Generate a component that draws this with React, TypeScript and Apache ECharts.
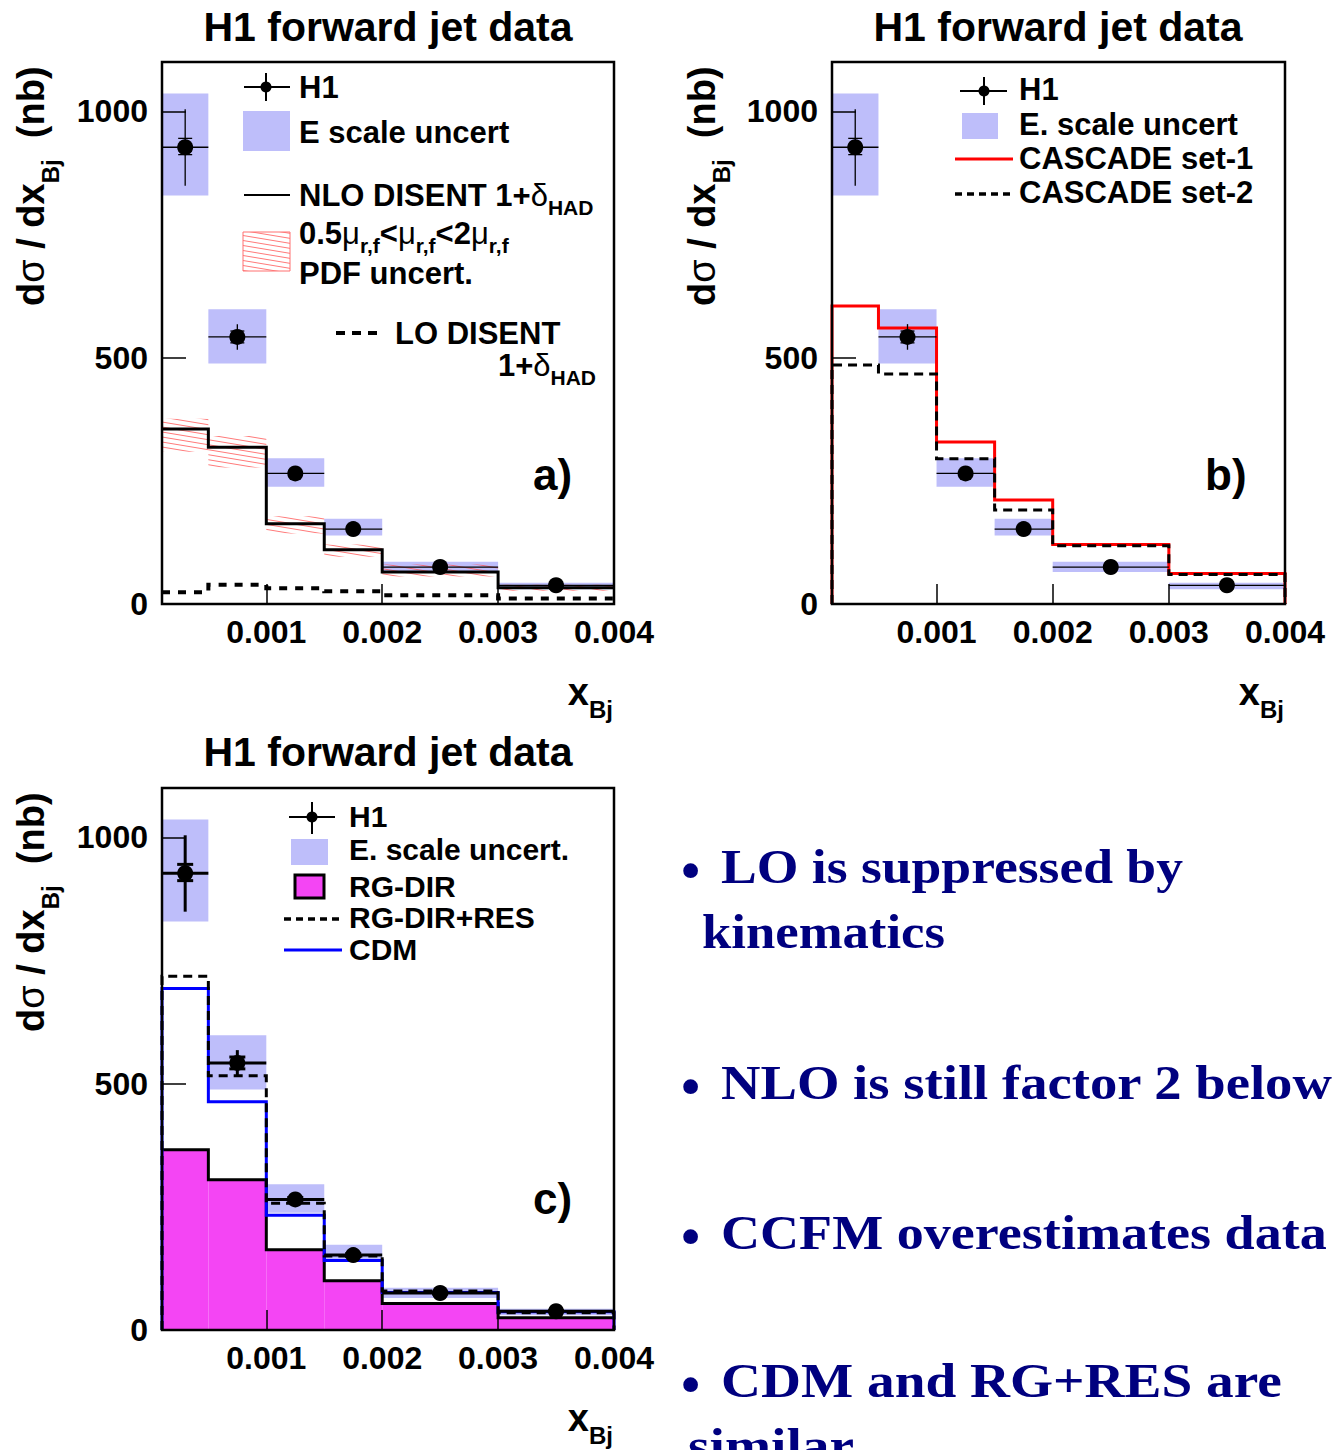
import React, { useEffect, useRef } from 'react';
import * as echarts from 'echarts';

// ---------------- data ----------------
const binEdges = [0.0001, 0.0005, 0.001, 0.0015, 0.002, 0.003, 0.004];
const h1Values = [927, 542, 265, 152, 75, 38];
const h1TotLow = [849, 516, 257, 146, 71, 35];
const h1TotHigh = [1004, 568, 273, 158, 79, 41];
const h1StatLow = [912, 530, 261, 149, 73, 37];
const h1StatHigh = [945, 554, 269, 155, 77, 39];
const eScaleLow = [829, 488, 238, 139, 65, 30];
const eScaleHigh = [1036, 598, 296, 173, 86, 43];
const nloValues = [355, 318, 163, 110, 65, 33];
const nloBandLow = [309, 277, 143, 96, 56, 27];
const nloBandHigh = [376, 341, 178, 121, 80, 39];
const loValues = [24, 39, 32, 26, 18, 11];
const cascadeSet1 = [605, 560, 329, 211, 121, 62];
const cascadeSet2 = [485, 467, 295, 191, 118, 60];
const rgDir = [366, 305, 163, 100, 54, 25];
const rgDirRes = [718, 516, 257, 150, 79, 35];
const cdm = [693, 463, 233, 141, 76, 37];
const xTickValues = [0.001, 0.002, 0.003];
const xLabelValues = [0.001, 0.002, 0.003, 0.004];
const yLabelValues = [0, 500, 1000];
const panelTitle = 'H1 forward jet data';
const noteLines = [
  'LO is suppressed by',
  'kinematics',
  'NLO is still factor 2 below',
  'CCFM overestimates data',
  'CDM and RG+RES are',
  'similar',
];

// ---------------- layout / style ----------------
const SANS = 'Liberation Sans';
const SERIF = 'Liberation Serif';
const BLUE_BOX = '#bebefa';
const MAGENTA = '#f445f4';
const NAVY = '#00007f';
const PANELS = [
  { left: 162, top: 62, width: 452, height: 542 },
  { left: 832, top: 62, width: 453, height: 542 },
  { left: 162, top: 788, width: 452, height: 542 },
];
// note layout: x, baseline, right edge target, bullet?
const NOTE_LAYOUT = [
  { x: 721, base: 883, right: 1183, bullet: true },
  { x: 702, base: 948, right: 945, bullet: false },
  { x: 721, base: 1099, right: 1333, bullet: true },
  { x: 721, base: 1249, right: 1327, bullet: true },
  { x: 721, base: 1397, right: 1282, bullet: true },
  { x: 688, base: 1462, right: 0, bullet: false },
];

let mctx: CanvasRenderingContext2D | null = null;
function measure(t: string, size: number, weight: string, family: string): number {
  if (!mctx) mctx = document.createElement('canvas').getContext('2d');
  mctx!.font = `${weight} ${size}px "${family}"`;
  return mctx!.measureText(t).width;
}

function text(x: number, y: number, t: string, size: number, weight = 'bold', extra: any = {}, family = SANS, color = '#000', align = 'left') {
  return {
    type: 'text',
    x,
    y,
    z: 100,
    ...extra,
    style: { text: t, fontSize: size, fontFamily: family, fontWeight: weight, fill: color, align, verticalAlign: 'middle' },
  };
}

type Part = { t: string; size?: number; weight?: string; dy?: number };
function row(x: number, y: number, parts: Part[], base: number, align: 'left' | 'right' | 'center' = 'left'): any[] {
  const ws = parts.map((p) => measure(p.t, p.size ?? base, p.weight ?? 'bold', SANS));
  const total = ws.reduce((a, b) => a + b, 0);
  let cx = align === 'left' ? x : align === 'right' ? x - total : x - total / 2;
  return parts.map((p, i) => {
    const el = text(cx, y + (p.dy ?? 0), p.t, p.size ?? base, p.weight ?? 'bold');
    cx += ws[i];
    return el;
  });
}

function gline(x1: number, y1: number, x2: number, y2: number, stroke: string, lineWidth: number, lineDash?: number[]) {
  return { type: 'line', z: 100, shape: { x1, y1, x2, y2 }, style: { stroke, lineWidth, lineDash } };
}

function makeHatch() {
  const c = document.createElement('canvas');
  c.width = 30;
  c.height = 5;
  const g = c.getContext('2d')!;
  g.strokeStyle = 'rgba(255,80,80,0.85)';
  g.lineWidth = 0.9;
  for (const off of [-5, 0, 5]) {
    g.beginPath();
    g.moveTo(0, off);
    g.lineTo(30, off + 5);
    g.stroke();
  }
  return { type: 'pattern', image: c.toDataURL(), repeat: 'repeat', imageWidth: 30, imageHeight: 5 };
}

function stepData(vals: number[], closed: boolean) {
  const n = vals.length;
  const pts: number[][] = vals.map((v, i) => [binEdges[i], v]);
  pts.push([binEdges[n], vals[n - 1]]);
  if (closed) {
    pts.unshift([binEdges[0], 0]);
    pts.push([binEdges[n], 0]);
  }
  return pts;
}

function stepSeries(g: number, vals: number[], color: string, width: number, dash: any, closed: boolean, z: number) {
  return {
    type: 'line',
    xAxisIndex: g,
    yAxisIndex: g,
    data: stepData(vals, closed),
    step: 'end',
    symbol: 'none',
    silent: true,
    z,
    lineStyle: { color, width, type: dash, cap: 'butt', join: 'miter' },
  };
}

function binRectSeries(g: number, lo: number[], hi: number[], fill: any, z: number, stroke?: string) {
  return {
    type: 'custom',
    coordinateSystem: 'cartesian2d',
    xAxisIndex: g,
    yAxisIndex: g,
    silent: true,
    z,
    data: lo.map((l, i) => [binEdges[i], binEdges[i + 1], l, hi[i]]),
    encode: { x: [0, 1], y: [2, 3] },
    renderItem: (_p: any, api: any) => {
      const a = api.coord([api.value(0), api.value(3)]);
      const b = api.coord([api.value(1), api.value(2)]);
      return {
        type: 'rect',
        shape: { x: a[0], y: a[1], width: b[0] - a[0], height: b[1] - a[1] },
        style: { fill, stroke: stroke ?? null, lineWidth: stroke ? 1 : 0 },
      };
    },
  };
}

function h1Series(g: number, lw: number, cap: number) {
  return {
    type: 'custom',
    coordinateSystem: 'cartesian2d',
    xAxisIndex: g,
    yAxisIndex: g,
    silent: true,
    z: 20,
    data: h1Values.map((v, i) => [binEdges[i], binEdges[i + 1], v, h1TotLow[i], h1TotHigh[i], h1StatLow[i], h1StatHigh[i]]),
    encode: { x: [0, 1], y: [2, 3, 4] },
    renderItem: (_p: any, api: any) => {
      const x0 = api.value(0);
      const x1 = api.value(1);
      const xc = (x0 + x1) / 2;
      const v = api.value(2);
      const pl = api.coord([x0, v]);
      const pr = api.coord([x1, v]);
      const pc = api.coord([xc, v]);
      const tl = api.coord([xc, api.value(3)]);
      const th = api.coord([xc, api.value(4)]);
      const sl = api.coord([xc, api.value(5)]);
      const sh = api.coord([xc, api.value(6)]);
      const st = { stroke: '#000', lineWidth: lw };
      return {
        type: 'group',
        children: [
          { type: 'line', shape: { x1: pl[0], y1: pc[1], x2: pr[0], y2: pc[1] }, style: st },
          { type: 'line', shape: { x1: pc[0], y1: tl[1], x2: pc[0], y2: th[1] }, style: st },
          { type: 'line', shape: { x1: pc[0] - cap, y1: sl[1], x2: pc[0] + cap, y2: sl[1] }, style: st },
          { type: 'line', shape: { x1: pc[0] - cap, y1: sh[1], x2: pc[0] + cap, y2: sh[1] }, style: st },
          { type: 'circle', shape: { cx: pc[0], cy: pc[1], r: 8 }, style: { fill: '#000' } },
        ],
      };
    },
  };
}

function buildOption() {
  const hatch = makeHatch();

  const grid = PANELS.map((p) => ({ ...p, show: false, containLabel: false, outerBoundsMode: 'none' }));
  const xAxis = PANELS.map((_p, g) => ({
    type: 'value',
    gridIndex: g,
    min: 0.0001,
    max: 0.004,
    z: 30,
    axisLine: { show: false },
    splitLine: { show: false },
    axisTick: { show: true, inside: true, length: 20, customValues: xTickValues, lineStyle: { color: '#000', width: 1.5 } },
    axisLabel: {
      customValues: xLabelValues,
      formatter: (v: number) => v.toFixed(3),
      fontFamily: SANS,
      fontWeight: 'bold',
      fontSize: 32,
      color: '#000',
      margin: 12,
    },
  }));
  const yAxis = PANELS.map((_p, g) => ({
    type: 'value',
    gridIndex: g,
    min: 0,
    max: 1100,
    z: 30,
    axisLine: { show: false },
    splitLine: { show: false },
    axisTick: { show: true, inside: true, length: 24, customValues: yLabelValues, lineStyle: { color: '#000', width: 1.5 } },
    axisLabel: {
      customValues: yLabelValues,
      formatter: (v: number) => String(v),
      fontFamily: SANS,
      fontWeight: 'bold',
      fontSize: 32,
      color: '#000',
      margin: 14,
    },
  }));

  const series: any[] = [];
  // panel a
  series.push(binRectSeries(0, eScaleLow, eScaleHigh, BLUE_BOX, 1));
  series.push(binRectSeries(0, nloBandLow, nloBandHigh, hatch, 2));
  series.push(stepSeries(0, loValues, '#000', 4, [8, 8], false, 4));
  series.push(stepSeries(0, nloValues, '#000', 3, 'solid', false, 5));
  series.push(h1Series(0, 1.3, 7));
  // panel b
  series.push(binRectSeries(1, eScaleLow, eScaleHigh, BLUE_BOX, 1));
  series.push(stepSeries(1, cascadeSet1, '#ff0000', 3, 'solid', true, 4));
  series.push(stepSeries(1, cascadeSet2, '#000', 3, [9, 6], true, 5));
  series.push(h1Series(1, 1.3, 7));
  // panel c
  series.push(binRectSeries(2, rgDir.map(() => 0), rgDir, MAGENTA, 1));
  series.push(binRectSeries(2, eScaleLow, eScaleHigh, BLUE_BOX, 2));
  series.push(stepSeries(2, rgDir, '#000', 3, 'solid', false, 3));
  series.push(stepSeries(2, cdm, '#0000ff', 3, 'solid', true, 4));
  series.push(stepSeries(2, rgDirRes, '#000', 3, [9, 6], true, 5));
  series.push(h1Series(2, 3, 8));

  const el: any[] = [];
  // frames
  PANELS.forEach((p) => {
    el.push({ type: 'rect', z: 90, shape: { x: p.left, y: p.top, width: p.width, height: p.height }, style: { fill: 'none', stroke: '#000', lineWidth: 2.5 } });
  });
  // titles
  el.push(text(388, 27, panelTitle, 41, 'bold', {}, SANS, '#000', 'center'));
  el.push(text(1058, 27, panelTitle, 41, 'bold', {}, SANS, '#000', 'center'));
  el.push(text(388, 752, panelTitle, 41, 'bold', {}, SANS, '#000', 'center'));
  // y-axis titles (rotated)
  const yTitleParts: Part[] = [
    { t: 'd' },
    { t: 'σ', weight: 'normal' },
    { t: ' / dx' },
    { t: 'Bj', size: 24, dy: 19 },
    { t: '  (nb)' },
  ];
  [[30, 306], [701, 306], [30, 1032]].forEach(([gx, gy]) => {
    el.push({ type: 'group', x: gx - 30, y: gy, rotation: Math.PI / 2, children: row(0, 31, yTitleParts, 38) });
  });
  // x-axis titles
  [[613, 692], [1284, 692], [613, 1418]].forEach(([rx, cy]) => {
    el.push(...row(rx, cy, [{ t: 'x', size: 38 }, { t: 'Bj', size: 24, dy: 17 }], 38, 'right'));
  });
  // panel labels
  el.push(text(533, 474, 'a)', 44));
  el.push(text(1205, 474, 'b)', 44));
  el.push(text(533, 1198, 'c)', 44));

  // legend a
  el.push(gline(244, 87, 290, 87, '#000', 2));
  el.push(gline(266, 73, 266, 101, '#000', 2));
  el.push({ type: 'circle', z: 100, shape: { cx: 266, cy: 87, r: 5.5 }, style: { fill: '#000' } });
  el.push(text(299, 87, 'H1', 31));
  el.push({ type: 'rect', z: 100, shape: { x: 243, y: 111, width: 47, height: 40 }, style: { fill: BLUE_BOX } });
  el.push(text(299, 132, 'E scale uncert', 31));
  el.push(gline(244, 195, 290, 195, '#000', 2));
  el.push(...row(299, 195, [{ t: 'NLO DISENT 1+' }, { t: 'δ', weight: 'normal' }, { t: 'HAD', size: 21, dy: 12.5 }], 31));
  el.push({ type: 'rect', z: 100, shape: { x: 243, y: 232, width: 47, height: 39 }, style: { fill: hatch, stroke: '#ff7070', lineWidth: 1 } });
  const sub: Part = { t: 'r,f', size: 21, dy: 12.5 };
  const mu: Part = { t: 'μ', weight: 'normal' };
  el.push(...row(299, 233, [{ t: '0.5' }, mu, sub, { t: '<' }, mu, sub, { t: '<2' }, mu, sub], 31));
  el.push(text(299, 273, 'PDF uncert.', 31));
  el.push(gline(336, 333, 378, 333, '#000', 4, [9, 7]));
  el.push(text(395, 333, 'LO DISENT', 31));
  el.push(...row(596, 365, [{ t: '1+' }, { t: 'δ', weight: 'normal' }, { t: 'HAD', size: 21, dy: 12 }], 31, 'right'));

  // legend b
  el.push(gline(960, 91, 1007, 91, '#000', 2));
  el.push(gline(984, 77, 984, 105, '#000', 2));
  el.push({ type: 'circle', z: 100, shape: { cx: 984, cy: 91, r: 5.5 }, style: { fill: '#000' } });
  el.push(text(1019, 89, 'H1', 31));
  el.push({ type: 'rect', z: 100, shape: { x: 962, y: 113, width: 36, height: 26 }, style: { fill: BLUE_BOX } });
  el.push(text(1019, 124, 'E. scale uncert', 31));
  el.push(gline(955, 159, 1013, 159, '#ff0000', 3));
  el.push(text(1019, 158, 'CASCADE set-1', 31));
  el.push(gline(955, 194, 1013, 194, '#000', 3.5, [7, 5]));
  el.push(text(1019, 192, 'CASCADE set-2', 31));

  // legend c
  el.push(gline(289, 817, 335, 817, '#000', 2));
  el.push(gline(312, 802, 312, 834, '#000', 2));
  el.push({ type: 'circle', z: 100, shape: { cx: 312, cy: 817, r: 5.5 }, style: { fill: '#000' } });
  el.push(text(349, 816, 'H1', 30));
  el.push({ type: 'rect', z: 100, shape: { x: 291, y: 839, width: 37, height: 26 }, style: { fill: BLUE_BOX } });
  el.push(text(349, 849, 'E. scale uncert.', 30));
  el.push({ type: 'rect', z: 100, shape: { x: 295, y: 875, width: 29, height: 23 }, style: { fill: MAGENTA, stroke: '#000', lineWidth: 3 } });
  el.push(text(349, 886, 'RG-DIR', 30));
  el.push(gline(284, 919, 340, 919, '#000', 3.5, [7, 5]));
  el.push(text(349, 917, 'RG-DIR+RES', 30));
  el.push(gline(284, 950, 342, 950, '#0000ff', 3));
  el.push(text(349, 949, 'CDM', 30));

  // notes
  const NOTE_SIZE = 48;
  let lastScale = 1.12;
  noteLines.forEach((t, i) => {
    const L = NOTE_LAYOUT[i];
    const w = measure(t, NOTE_SIZE, 'bold', SERIF);
    const sc = L.right > 0 ? (L.right - L.x) / w : lastScale;
    lastScale = sc;
    el.push(text(L.x, L.base - 0.3375 * NOTE_SIZE, t, NOTE_SIZE, 'bold', { scaleX: sc }, SERIF, NAVY));
    if (L.bullet) {
      el.push(text(690.5, L.base - 13, '•', 62, 'normal', {}, SERIF, NAVY, 'center'));
    }
  });

  return {
    animation: false,
    backgroundColor: '#ffffff',
    grid,
    xAxis,
    yAxis,
    series,
    graphic: { elements: el },
  };
}

export default function App() {
  const ref = useRef<HTMLDivElement>(null);
  useEffect(() => {
    const chart = echarts.init(ref.current!, undefined, { renderer: 'svg' });
    chart.setOption(buildOption() as any);
    return () => chart.dispose();
  }, []);
  return (
    <div
      ref={ref}
      style={{ position: 'fixed', left: 0, top: 0, width: 1341, height: 1450, background: '#fff' }}
    />
  );
}
